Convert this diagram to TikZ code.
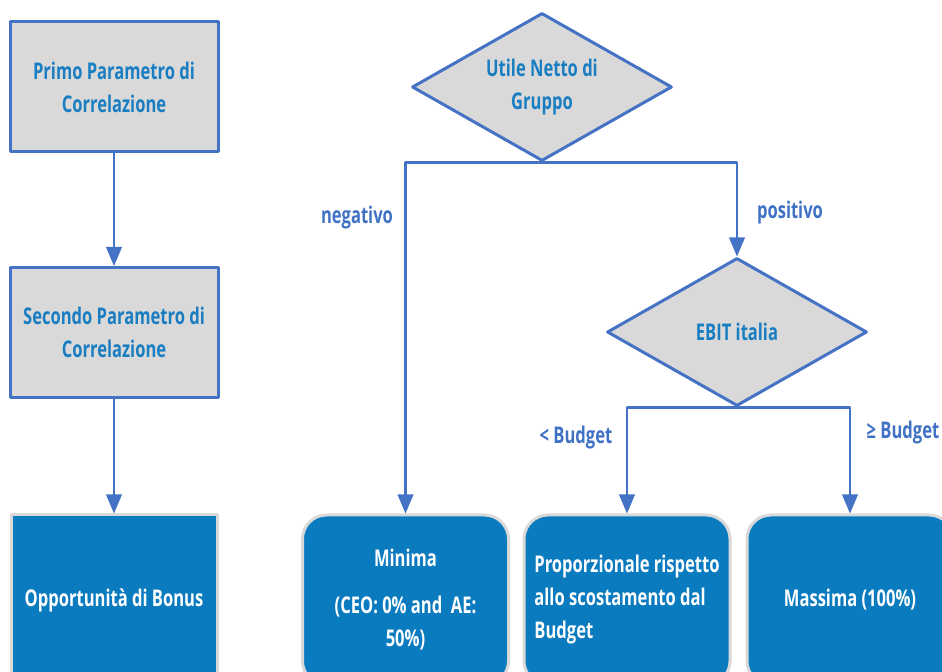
\documentclass[tikz,border=0pt]{standalone}
\usepackage{fontspec}
\setmainfont[FakeStretch=0.72]{Open Sans}
\usepackage{tikz}
\usetikzlibrary{arrows,shapes.geometric}
\definecolor{ddddww}{rgb}{0.851,0.851,0.851}
\definecolor{ddeebb}{rgb}{0.267,0.447,0.769}
\definecolor{qqbbcc}{rgb}{0.043,0.482,0.753}
\definecolor{qqbbdd}{rgb}{0.098,0.490,0.761}
\definecolor{ddffcc}{rgb}{0.247,0.443,0.769}
\tikzstyle{every node}=[font=\fontsize{11.5}{16.5}\selectfont\bfseries]
\tikzstyle{greybox}=[draw=ddeebb,fill=ddddww,line width=1.5pt,minimum width=104pt,minimum height=65pt,text=qqbbdd,align=center]
\tikzstyle{bluebox}=[draw=ddddww,fill=qqbbcc,line width=1.5pt,minimum width=103pt,minimum height=85pt,text=white]
\tikzstyle{choice}=[diamond,aspect=2.2,draw=ddeebb,fill=ddddww,line width=1.5pt,minimum width=130pt,minimum height=74pt,inner sep=0pt,text=qqbbdd,align=center]
\tikzstyle{branch}=[text=ddffcc]
\begin{document}
\begin{tikzpicture}[line cap=round,line join=round,>=triangle 45,x=0.5pt,y=-0.5pt]
                \useasboundingbox (0,0) rectangle (942,672);
                \clip (0,0) rectangle (942,672);
                % left column
                \node[greybox] (primo) at (114,87) {Primo Parametro di\\Correlazione};
                \node[greybox] (secondo) at (114,332.5) {Secondo Parametro di\\Correlazione};
                \node[bluebox,align=center] (bonus) at (114,600) {Opportunità di Bonus};
                \draw [->,line width=1.2pt,color=ddeebb] (primo) -- (secondo);
                \draw [->,line width=1.2pt,color=ddeebb] (secondo) -- (bonus);
                % decisions
                \node[choice] (utile) at (542,87) {Utile Netto di\\Gruppo};
                \node[choice] (ebit) at (737,332) {EBIT italia};
                \node[bluebox,rounded corners=12pt,align=center] (minima) at (405.5,600) {Minima\\[7pt](CEO: 0\% and\ \ AE:\\50\%)};
                \node[bluebox,rounded corners=12pt,align=left,minimum width=103pt] (propo) at (627,600) {Proporzionale rispetto\\allo scostamento dal\\Budget};
                \node[bluebox,rounded corners=12pt,align=center] (massima) at (850,600) {Massima (100\%)};
                \draw [->,line width=1.2pt,color=ddeebb] (utile.south) -| (minima.north);
                \draw [->,line width=1.2pt,color=ddeebb] (utile.south) -| (ebit.north);
                \draw [->,line width=1.2pt,color=ddeebb] (ebit.south) -| (propo.north);
                \draw [->,line width=1.2pt,color=ddeebb] (ebit.south) -| (massima.north);
                % branch labels
                \node[branch] (neg) at (357,218) {negativo};
                \node[branch] (pos) at (790,213) {positivo};
                \node[branch] (less) at (576,438) {< Budget};
                \node[branch] (more) at (903,433) {≥ Budget};
            \end{tikzpicture}
\end{document}
